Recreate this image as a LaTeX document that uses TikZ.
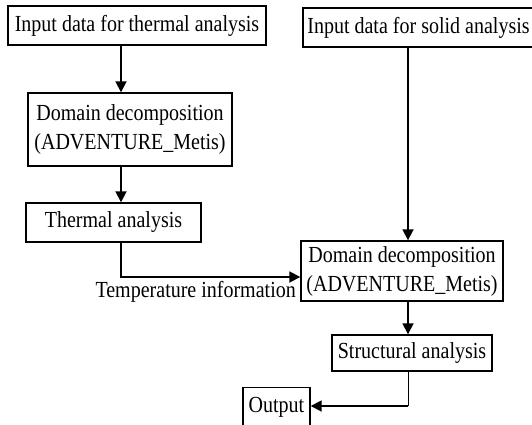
\documentclass[tikz,border=0pt]{standalone}
\usepackage{fontspec}
\setmainfont{Liberation Serif}[FakeStretch=0.87]
\usetikzlibrary{arrows.meta,positioning}
\begin{document}
\begin{tikzpicture}[x=1pt,y=-1pt,
  box/.style={draw,line width=1.4pt,inner sep=0pt,align=center,
    font=\fontsize{23}{29}\selectfont},
  arr/.style={line width=1.8pt,-{Triangle[length=11pt,width=11pt]}},
  lbl/.style={font=\fontsize{23}{29}\selectfont,inner sep=0pt}]
\useasboundingbox (0,0) rectangle (532,425);
\clip (0,0) rectangle (532,425);
\node[box,minimum width=258pt,minimum height=39pt] (tin) at (137,25.5) {Input data for thermal analysis};
\node[box,minimum width=204pt,minimum height=73pt] (dd1) at (130,129.5) {Domain decomposition\\(ADVENTURE\_Metis)};
\node[box,minimum width=175pt,minimum height=39pt] (th) at (113.5,222.5) {Thermal analysis};
\node[box,minimum width=231pt,minimum height=39pt] (sin) at (418.5,27.5) {Input data for solid analysis};
\node[box,minimum width=202pt,minimum height=60pt] (dd2) at (402,271) {Domain decomposition\\(ADVENTURE\_Metis)};
\node[box,minimum width=160pt,minimum height=36pt] (sa) at (412,353) {Structural analysis};
\node[box,minimum width=67pt,minimum height=46pt,anchor=north] (out) at (276.5,387) {};
\node[lbl] (outt) at (276.5,407) {Output};
\node[lbl,anchor=east] (ti) at (296,292) {Temperature information};
\coordinate (xl) at (121,0);
\coordinate (xr) at (408,0);
\coordinate (yt) at (0,277);
\coordinate (yo) at (0,406);
\draw[arr] (tin.south -| xl) -- (dd1.north -| xl);
\draw[arr] (dd1.south -| xl) -- (th.north -| xl);
\draw[arr] (th.south -| xl) -- (yt -| xl) -- (yt -| dd2.west);
\draw[arr] (sin.south -| xr) -- (dd2.north -| xr);
\draw[arr] (dd2.south -| xr) -- (sa.north -| xr);
\draw[line width=1pt] (sa.south -| xr) -- (yo -| xr);
\draw[arr] (yo -| xr) -- (yo -| out.east);
\end{tikzpicture}
\end{document}
